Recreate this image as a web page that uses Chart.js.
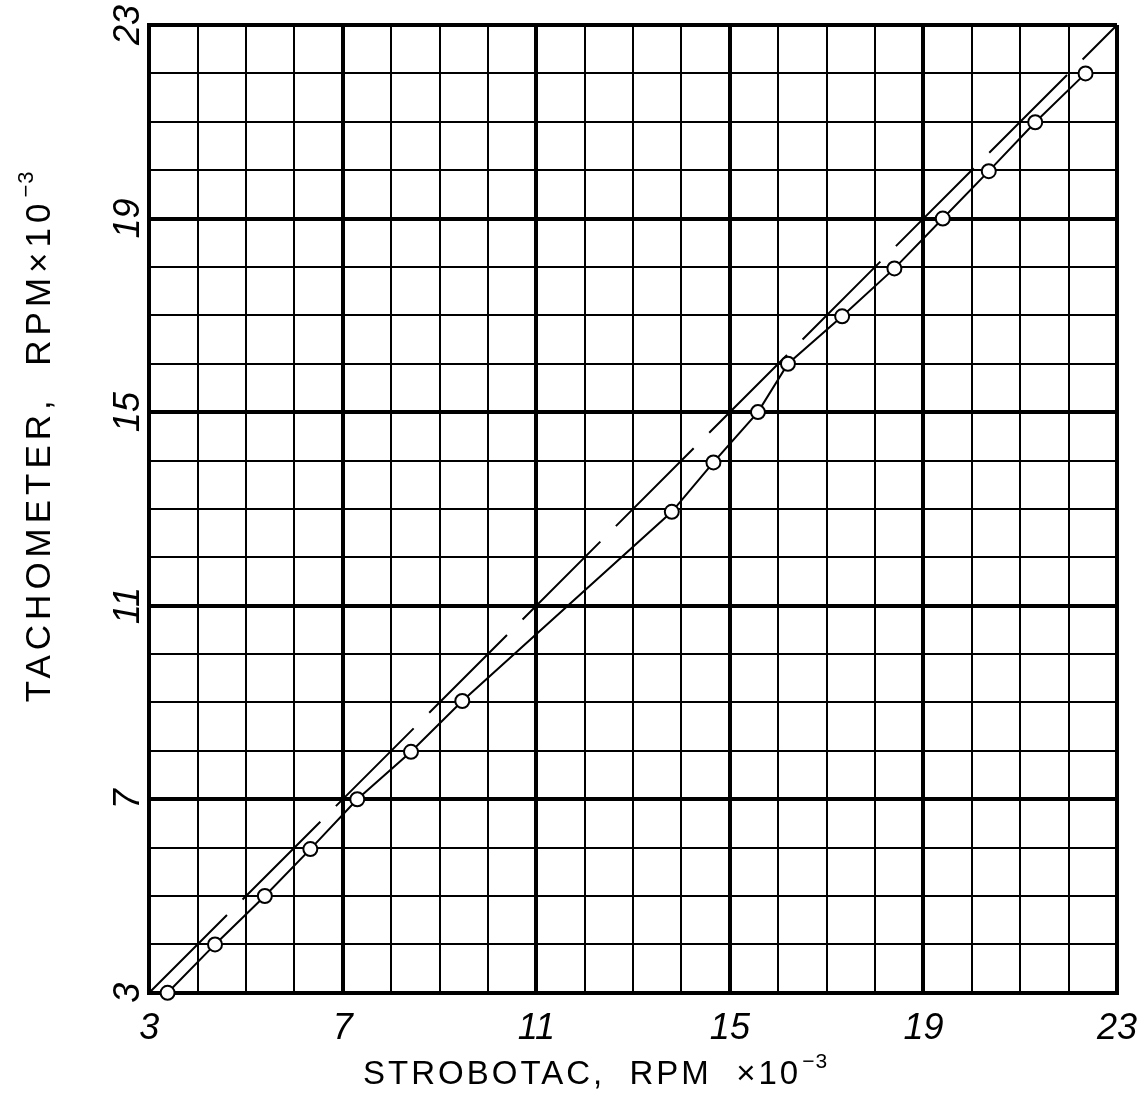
<!DOCTYPE html>
<html>
<head>
<meta charset="utf-8">
<script src="https://cdn.jsdelivr.net/npm/chart.js@4.4.1/dist/chart.umd.min.js"></script>
<style>
  html, body { margin: 0; padding: 0; background: #fff; }
  #wrap { width: 1144px; height: 1118px; }
</style>
</head>
<body>
<div id="wrap"><canvas id="calibChart"></canvas></div>
<script>
// readings, RPM x 10^-3
const strobotac  = [3.38, 4.36, 5.39, 6.33, 7.30, 8.41, 9.47, 13.80, 14.66, 15.58, 16.20, 17.32, 18.40, 19.40, 20.35, 21.31, 22.35];
const tachometer = [3.00, 4.00, 5.00, 5.97, 7.00, 7.98, 9.03, 12.94, 13.96, 15.00, 16.00, 16.98, 17.97, 19.00, 19.98, 20.99, 22.00];

// 1:1 reference line
const idealX = [3, 23];
const idealY = [3, 23];

const axisMin = 3;
const axisMax = 23;
const labelTicks = [3, 7, 11, 15, 19, 23];

const xTitle = 'STROBOTAC,  RPM  \u00d710';
const yTitle = 'TACHOMETER,  RPM\u00d710';
const exponent = '\u22123';

function isMajor(v) {
  return (v - axisMin) % 4 === 0;
}

function drawTitle(ctx, text, x, y, size, spacing) {
  const main = size + 'px "Liberation Sans"';
  const sup = Math.round(size * 0.64) + 'px "Liberation Sans"';
  ctx.font = main;
  ctx.letterSpacing = spacing + 'px';
  const w = ctx.measureText(text).width;
  ctx.font = sup;
  ctx.letterSpacing = '1px';
  const ws = ctx.measureText(exponent).width;
  const start = x - (w + ws) / 2;
  ctx.font = main;
  ctx.letterSpacing = spacing + 'px';
  ctx.fillText(text, start, y);
  ctx.font = sup;
  ctx.letterSpacing = '1px';
  ctx.fillText(exponent, start + w + 1, y - size * 0.48);
}

const axisTitles = {
  id: 'axisTitles',
  afterDraw(chart) {
    const { ctx, chartArea: a } = chart;
    ctx.save();
    ctx.fillStyle = '#000';
    ctx.textAlign = 'left';
    ctx.textBaseline = 'alphabetic';
    drawTitle(ctx, xTitle, (a.left + a.right) / 2 - 38, a.bottom + 91, 33, 3);

    ctx.translate(a.left - 99, (a.top + a.bottom) / 2 - 72);
    ctx.rotate(-Math.PI / 2);
    drawTitle(ctx, yTitle, 0, 0, 35, 5);
    ctx.restore();
  }
};

const tickFont = { family: 'Liberation Sans', size: 36, style: 'italic', lineHeight: 1.7 };

const ctx = document.getElementById('calibChart').getContext('2d');
new Chart(ctx, {
  type: 'scatter',
  data: {
    datasets: [
      {
        label: 'Measured',
        data: strobotac.map((x, i) => ({ x: x, y: tachometer[i] })),
        showLine: true,
        borderColor: '#000',
        borderWidth: 2,
        pointRadius: 7,
        pointBorderWidth: 2,
        pointBorderColor: '#000',
        pointBackgroundColor: '#fff',
        clip: false,
        order: 0
      },
      {
        label: 'Ideal',
        data: idealX.map((x, i) => ({ x: x, y: idealY[i] })),
        showLine: true,
        borderColor: '#000',
        borderWidth: 2,
        borderDash: [110, 22],
        pointRadius: 0,
        order: 1
      }
    ]
  },
  options: {
    responsive: true,
    maintainAspectRatio: false,
    animation: false,
    layout: {
      padding: { left: 106, right: 27, top: 25, bottom: 52 }
    },
    scales: {
      x: {
        type: 'linear',
        min: axisMin,
        max: axisMax,
        border: { display: true, color: '#000', width: 4 },
        grid: {
          color: '#000',
          drawTicks: false,
          lineWidth: (c) => (c.tick && isMajor(c.tick.value) ? 4 : 2)
        },
        ticks: {
          stepSize: 1,
          autoSkip: false,
          maxRotation: 0,
          padding: 6,
          color: '#000',
          font: tickFont,
          callback: (v) => (labelTicks.includes(v) ? String(v) : '')
        }
      },
      y: {
        type: 'linear',
        min: axisMin,
        max: axisMax,
        border: { display: true, color: '#000', width: 4 },
        grid: {
          color: '#000',
          drawTicks: false,
          lineWidth: (c) => (c.tick && isMajor(c.tick.value) ? 4 : 2)
        },
        ticks: {
          stepSize: 1,
          autoSkip: false,
          minRotation: 90,
          maxRotation: 90,
          crossAlign: 'center',
          padding: 0,
          color: '#000',
          font: { family: 'Liberation Sans', size: 36, style: 'italic' },
          callback: (v) => (labelTicks.includes(v) ? String(v) : '')
        }
      }
    },
    plugins: {
      legend: { display: false },
      tooltip: { enabled: false }
    }
  },
  plugins: [axisTitles]
});
</script>
</body>
</html>
